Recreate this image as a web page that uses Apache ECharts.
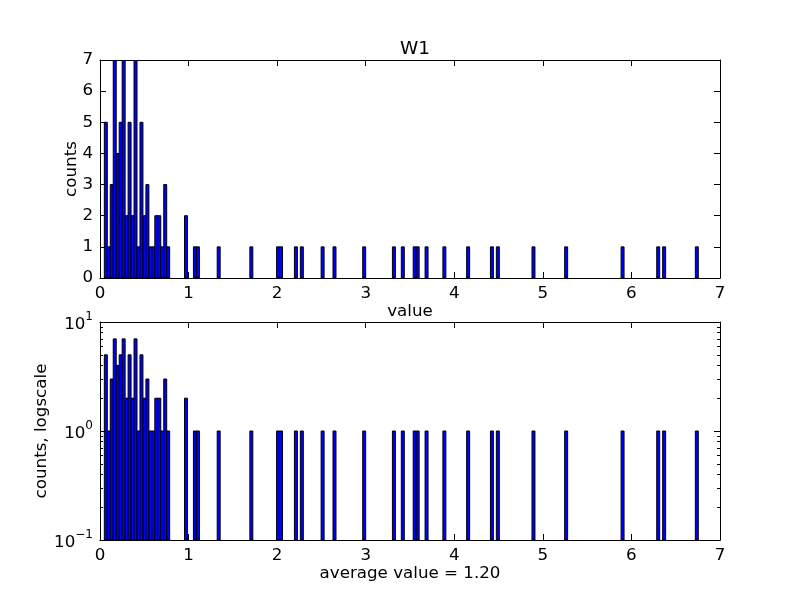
<!DOCTYPE html>
<html>
<head>
<meta charset="utf-8">
<script src="https://cdn.jsdelivr.net/npm/echarts@6/dist/echarts.min.js"></script>
<style>html,body{margin:0;padding:0;background:#fff;}#c{width:800px;height:600px;}</style>
</head>
<body>
<div id="c"></div>
<script>
// Histogram: 200 bins between min and max of the data
const binMin = 0.049;
const binWidth = 0.03353;
// non-empty bins (index) and their counts
const binIndex = [0,1,2,3,4,5,6,7,8,9,10,11,12,13,14,15,16,17,18,19,20,21,
  27,30,31,38,49,58,59,64,66,73,77,87,97,100,104,105,108,114,122,130,132,144,155,174,186,188,199];
const binCount = [5,1,3,7,4,5,7,2,5,2,7,1,5,2,3,1,1,2,2,1,3,1,
  2,1,1,1,1,1,1,1,1,1,1,1,1,1,1,1,1,1,1,1,1,1,1,1,1,1,1];
const xTicks = [0,1,2,3,4,5,6,7];
const linTicks = [0,1,2,3,4,5,6,7];
const logMajor = [0.1, 1, 10];
const logMinor = [0.2,0.3,0.4,0.5,0.6,0.7,0.8,0.9,2,3,4,5,6,7,8,9];
const titleText = 'W1';
const avgText = 'average value = 1.20';

const FONT = 'DejaVu Sans';
const FS = 16.7;
const data = binIndex.map((b, k) => [binMin + b * binWidth, binCount[k]]);

function makeRender(base) {
  return function (params, api) {
    const x0 = api.value(0), c = api.value(1);
    const p0 = api.coord([x0, c]);
    const p1 = api.coord([x0 + binWidth, base]);
    return {
      type: 'rect',
      shape: { x: p0[0], y: p0[1], width: p1[0] - p0[0], height: p1[1] - p0[1] },
      style: { fill: '#0000ff', stroke: '#000', lineWidth: 1 }
    };
  };
}

const line = { show: true, onZero: false, lineStyle: { color: '#000', width: 1 } };
const noLine = { show: false, onZero: false };
const tickIn = (len) => ({ show: true, inside: true, length: len, lineStyle: { color: '#000', width: 1 } });
const noLabel = { show: false };

function xAxes(grid, name, nameGap) {
  return [
    { type: 'value', gridIndex: grid, position: 'bottom', min: 0, max: 7, interval: 1,
      axisLine: line, axisTick: tickIn(6), splitLine: { show: false },
      axisLabel: { color: '#000', fontSize: FS, fontFamily: FONT, margin: 7 },
      name: name, nameLocation: 'middle', nameGap: nameGap,
      nameTextStyle: { color: '#000', fontSize: FS, fontFamily: FONT } },
    { type: 'value', gridIndex: grid, position: 'top', min: 0, max: 7, interval: 1,
      axisLine: line, axisTick: tickIn(6), splitLine: { show: false }, axisLabel: noLabel }
  ];
}

const option = {
  animation: false,
  backgroundColor: '#fff',
  title: { text: titleText, left: 410, top: 35, textAlign: 'center',
    textStyle: { color: '#000', fontSize: 18.5, fontWeight: 'normal', fontFamily: FONT } },
  grid: [
    { left: 100, right: 80, top: 60, height: 218 },
    { left: 100, right: 80, top: 322, height: 218 }
  ],
  xAxis: [].concat(xAxes(0, 'value', 24), xAxes(1, avgText, 24)),
  yAxis: [
    { type: 'value', gridIndex: 0, position: 'left', min: 0, max: 7, interval: 1,
      axisLine: line, axisTick: tickIn(6), splitLine: { show: false },
      axisLabel: { color: '#000', fontSize: FS, fontFamily: FONT, margin: 7 },
      name: 'counts', nameLocation: 'middle', nameGap: 20, nameRotate: 90, nameMoveOverlap: false,
      nameTextStyle: { color: '#000', fontSize: FS, fontFamily: FONT } },
    { type: 'value', gridIndex: 0, position: 'right', min: 0, max: 7, interval: 1,
      axisLine: line, axisTick: tickIn(6), splitLine: { show: false }, axisLabel: noLabel },
    { type: 'log', logBase: 10, gridIndex: 1, position: 'left', min: 0.1, max: 10,
      axisLine: line, axisTick: Object.assign(tickIn(6), { customValues: logMajor }), splitLine: { show: false },
      axisLabel: { customValues: logMajor, color: '#000', fontFamily: FONT, margin: 7,
        formatter: function (v) {
          const e = Math.round(Math.log10(v));
          return '{b|10}{s|' + (e < 0 ? '\u2212' + (-e) : e) + '}';
        },
        rich: {
          b: { fontSize: FS, fontFamily: FONT, color: '#000', lineHeight: 22, verticalAlign: 'bottom' },
          s: { fontSize: 12, fontFamily: FONT, color: '#000', lineHeight: 22, verticalAlign: 'top' }
        } },
      name: 'counts, logscale', nameLocation: 'middle', nameGap: 50, nameRotate: 90, nameMoveOverlap: false,
      nameTextStyle: { color: '#000', fontSize: FS, fontFamily: FONT } },
    { type: 'log', logBase: 10, gridIndex: 1, position: 'right', min: 0.1, max: 10,
      axisLine: line, axisTick: Object.assign(tickIn(6), { customValues: logMajor }), splitLine: { show: false }, axisLabel: noLabel },
    { type: 'log', logBase: 10, gridIndex: 1, position: 'left', min: 0.1, max: 10,
      axisLine: noLine, axisTick: Object.assign(tickIn(3), { customValues: logMinor }), splitLine: { show: false }, axisLabel: noLabel },
    { type: 'log', logBase: 10, gridIndex: 1, position: 'right', min: 0.1, max: 10,
      axisLine: noLine, axisTick: Object.assign(tickIn(3), { customValues: logMinor }), splitLine: { show: false }, axisLabel: noLabel }
  ],
  series: [
    { type: 'custom', xAxisIndex: 0, yAxisIndex: 0, renderItem: makeRender(0), data: data, clip: true, encode: { x: 0, y: 1 } },
    { type: 'custom', xAxisIndex: 2, yAxisIndex: 2, renderItem: makeRender(0.1), data: data, clip: true, encode: { x: 0, y: 1 } }
  ]
};

const chart = echarts.init(document.getElementById('c'), null, { renderer: 'canvas' });
chart.setOption(option);
</script>
</body>
</html>
